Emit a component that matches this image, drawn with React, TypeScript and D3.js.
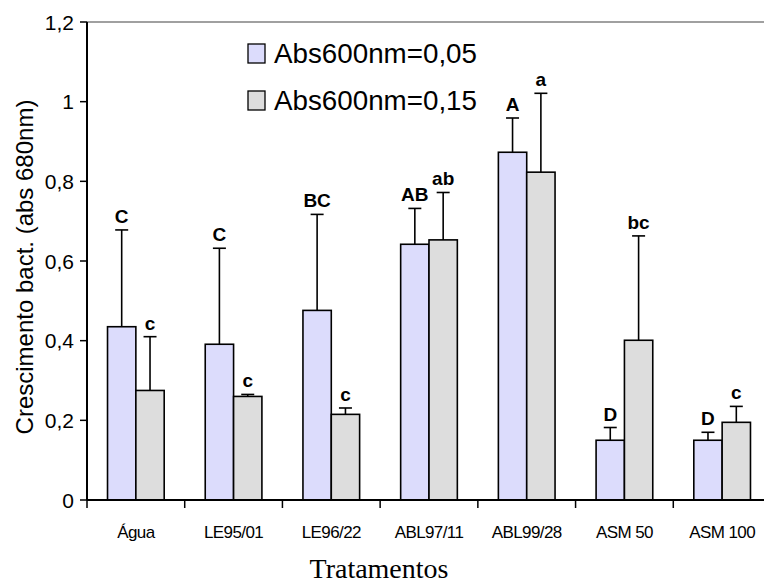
import React from "react";
import * as d3 from "d3";

// categories and series
const categories = ["Água", "LE95/01", "LE96/22", "ABL97/11", "ABL99/28", "ASM 50", "ASM 100"];
const seriesNames = ["Abs600nm=0,05", "Abs600nm=0,15"];
const means005 = [0.435, 0.391, 0.476, 0.642, 0.873, 0.15, 0.15];
const errTop005 = [0.678, 0.632, 0.717, 0.732, 0.959, 0.182, 0.17];
const means015 = [0.275, 0.26, 0.215, 0.653, 0.823, 0.401, 0.195];
const errTop015 = [0.41, 0.265, 0.231, 0.772, 1.021, 0.663, 0.235];
const letters005 = ["C", "C", "BC", "AB", "A", "D", "D"];
const letters015 = ["c", "c", "c", "ab", "a", "bc", "c"];
const yTicks = [0, 0.2, 0.4, 0.6, 0.8, 1, 1.2];

const colors = ["#dcdcfc", "#dddddd"];
const sans = "'Liberation Sans', Arial, sans-serif";

const W = 764;
const H = 586;
const margin = { left: 87, top: 22, right: -7, bottom: 86 };

const App = () => {
  const x0 = d3
    .scaleBand()
    .domain(categories)
    .range([margin.left, W - margin.right]);
  const barW = x0.bandwidth() * 0.29;
  const x1 = d3
    .scaleBand()
    .domain(["0", "1"])
    .range([x0.bandwidth() / 2 - barW, x0.bandwidth() / 2 + barW]);
  const y = d3
    .scaleLinear()
    .domain([0, 1.2])
    .range([H - margin.bottom, margin.top]);

  const fmt = (v: number) => String(v).replace(".", ",");
  const series = [
    { means: means005, errs: errTop005, letters: letters005 },
    { means: means015, errs: errTop015, letters: letters015 },
  ];

  return (
    <svg
      width={W}
      height={H}
      style={{ position: "absolute", left: 0, top: 0, background: "#fff" }}
    >
      {/* top frame line */}
      <line x1={margin.left} x2={W} y1={y(1.2)} y2={y(1.2)} stroke="#808080" strokeWidth={1.5} />

      {/* bars */}
      {series.map((s, si) =>
        categories.map((c, i) => {
          const bx = x0(c)! + x1(String(si))!;
          return (
            <rect
              key={`b${si}-${i}`}
              x={bx}
              y={y(s.means[i])}
              width={x1.bandwidth()}
              height={y(0) - y(s.means[i])}
              fill={colors[si]}
              stroke="#000"
              strokeWidth={1.6}
            />
          );
        })
      )}

      {/* error bars and letters */}
      {series.map((s, si) =>
        categories.map((c, i) => {
          const cx = x0(c)! + x1(String(si))! + x1.bandwidth() / 2;
          return (
            <g key={`e${si}-${i}`}>
              <line x1={cx} x2={cx} y1={y(s.means[i])} y2={y(s.errs[i])} stroke="#000" strokeWidth={1.6} />
              <line x1={cx - 6.5} x2={cx + 6.5} y1={y(s.errs[i])} y2={y(s.errs[i])} stroke="#000" strokeWidth={1.6} />
              <text
                x={cx}
                y={y(s.errs[i]) - 7}
                textAnchor="middle"
                fontFamily={sans}
                fontWeight="bold"
                fontSize={19}
              >
                {s.letters[i]}
              </text>
            </g>
          );
        })
      )}

      {/* y axis */}
      <line x1={margin.left} x2={margin.left} y1={y(1.2)} y2={y(0)} stroke="#000" strokeWidth={2} />
      {yTicks.map((t) => (
        <g key={t}>
          <line x1={margin.left - 7} x2={margin.left} y1={y(t)} y2={y(t)} stroke="#000" strokeWidth={1.5} />
          <text
            x={margin.left - 13}
            y={y(t)}
            dy="0.36em"
            textAnchor="end"
            fontFamily={sans}
            fontSize={21}
          >
            {fmt(t)}
          </text>
        </g>
      ))}

      {/* x axis */}
      <line x1={margin.left} x2={W} y1={y(0)} y2={y(0)} stroke="#000" strokeWidth={2} />
      {categories.map((c) => (
        <g key={c}>
          <line x1={x0(c)!} x2={x0(c)!} y1={y(0)} y2={y(0) + 8} stroke="#000" strokeWidth={1.5} />
          <text
            x={x0(c)! + x0.bandwidth() / 2}
            y={538}
            textAnchor="middle"
            fontFamily={sans}
            fontSize={17}
            letterSpacing={-0.6}
          >
            {c}
          </text>
        </g>
      ))}

      {/* axis titles */}
      <text
        transform={`translate(33, 267) rotate(-90)`}
        textAnchor="middle"
        fontFamily={sans}
        fontSize={24}
      >
        Crescimento bact. (abs 680nm)
      </text>
      <text x={379} y={578} textAnchor="middle" fontFamily="'Liberation Serif', 'Times New Roman', serif" fontSize={28}>
        Tratamentos
      </text>

      {/* legend */}
      {seriesNames.map((n, i) => (
        <g key={n} transform={`translate(248, ${44 + i * 47})`}>
          <rect x={0} y={0} width={17} height={19} fill={colors[i]} stroke="#000" strokeWidth={1.3} />
          <text x={26} y={19} fontFamily={sans} fontSize={27} textLength={203} lengthAdjust="spacingAndGlyphs">
            {n}
          </text>
        </g>
      ))}
    </svg>
  );
};

export default App;
